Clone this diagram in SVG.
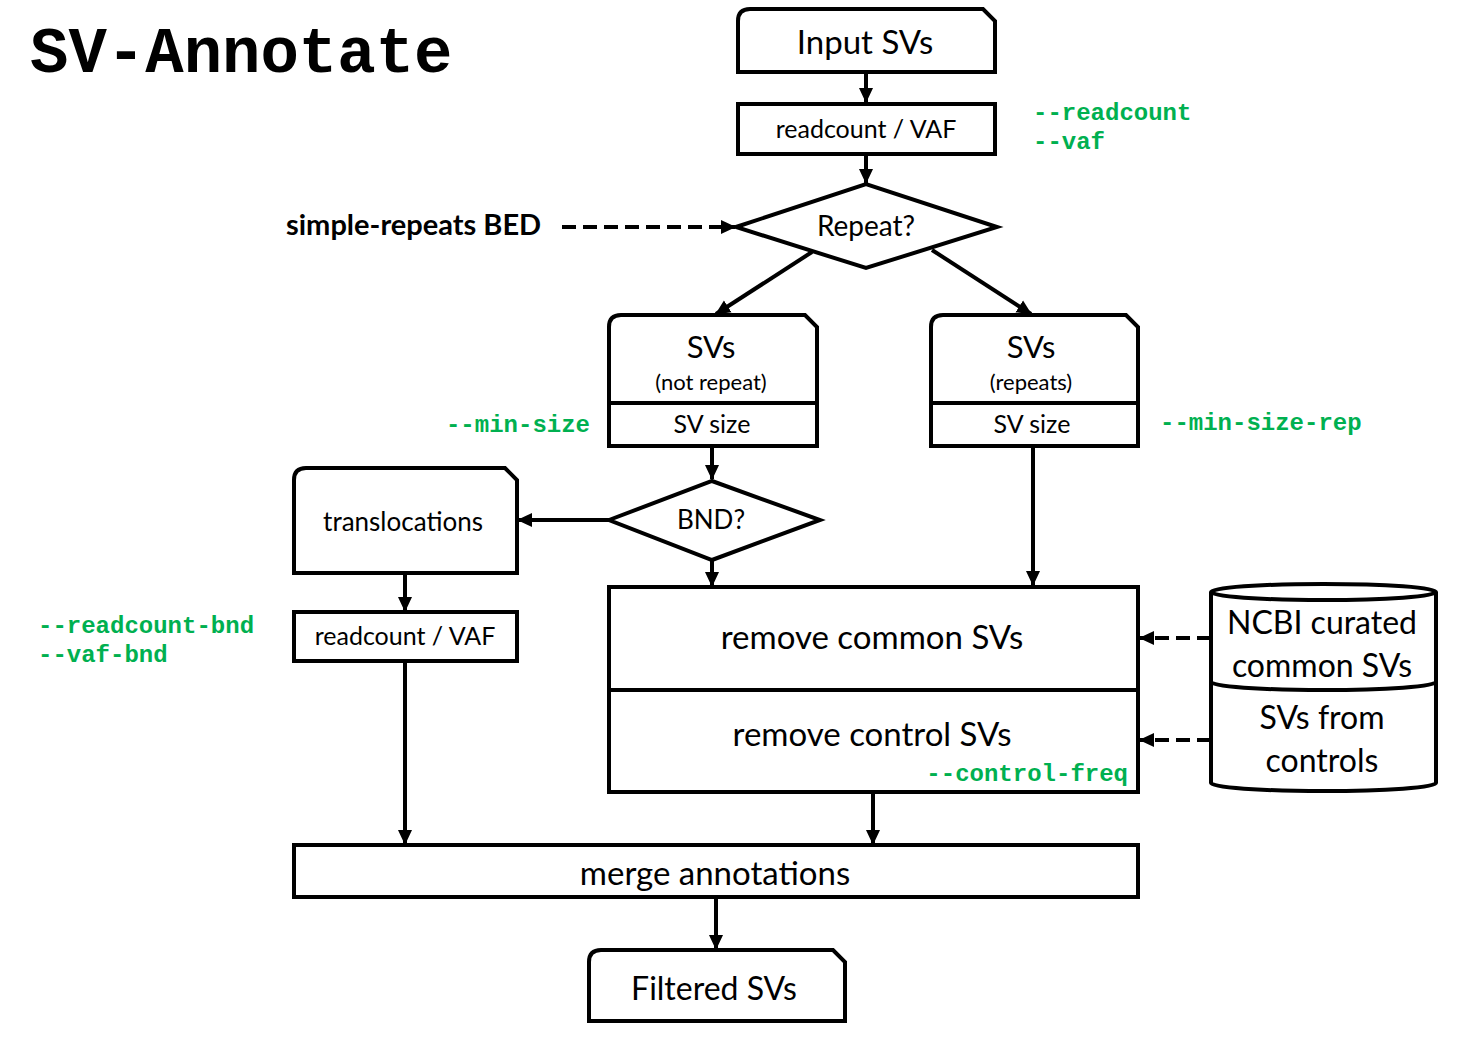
<svg xmlns="http://www.w3.org/2000/svg" width="1468" height="1041" viewBox="0 0 1468 1041">
<style>
.box{fill:#fff;stroke:#000;stroke-width:4}
.ln{fill:none;stroke:#000;stroke-width:4}
.dash{fill:none;stroke:#000;stroke-width:4;stroke-dasharray:14 7}
.t{font-family:Lato,"Liberation Sans",sans-serif;fill:#000;text-anchor:middle}
.g{font-family:"Liberation Mono","Courier New",monospace;font-weight:bold;fill:#00B050;font-size:24px}
</style>
<defs>
<marker id="ah" markerUnits="userSpaceOnUse" markerWidth="16" markerHeight="16" refX="14" refY="8" orient="auto">
<path d="M0,1 L15,8 L0,15 Z" fill="#000"/>
</marker>
</defs>
<rect width="1468" height="1041" fill="#fff"/>
<text x="30" y="72" font-family="Liberation Mono,Courier New,monospace" font-weight="bold" font-size="64" fill="#000">SV-Annotate</text>

<g id="connectors">
<line class="ln" x1="866" y1="72" x2="866" y2="102" marker-end="url(#ah)"/>
<line class="ln" x1="866" y1="154" x2="866" y2="183" marker-end="url(#ah)"/>
<line class="dash" x1="562" y1="227" x2="735" y2="227" marker-end="url(#ah)"/>
<line class="ln" x1="812" y1="252" x2="716" y2="314" marker-end="url(#ah)"/>
<line class="ln" x1="932" y1="250" x2="1031" y2="314" marker-end="url(#ah)"/>
<line class="ln" x1="712" y1="446" x2="712" y2="479" marker-end="url(#ah)"/>
<line class="ln" x1="609" y1="520" x2="518" y2="520" marker-end="url(#ah)"/>
<line class="ln" x1="712" y1="560" x2="712" y2="586" marker-end="url(#ah)"/>
<line class="ln" x1="405" y1="573" x2="405" y2="611" marker-end="url(#ah)"/>
<line class="ln" x1="405" y1="661" x2="405" y2="844" marker-end="url(#ah)"/>
<line class="ln" x1="1033" y1="446" x2="1033" y2="585" marker-end="url(#ah)"/>
<line class="ln" x1="873" y1="792" x2="873" y2="844" marker-end="url(#ah)"/>
<line class="ln" x1="716" y1="897" x2="716" y2="949" marker-end="url(#ah)"/>
<line class="dash" x1="1211" y1="638" x2="1140" y2="638" marker-end="url(#ah)"/>
<line class="dash" x1="1211" y1="740" x2="1140" y2="740" marker-end="url(#ah)"/>
</g>

<g id="input-svs">
<path class="box" d="M738,72 L738,21 Q738,9 750,9 L983,9 L995,21 L995,72 Z"/>
<text class="t" x="865" y="54" font-size="33">Input SVs</text>
</g>
<g id="readcount-vaf">
<rect class="box" x="738" y="104" width="257" height="50"/>
<text class="t" x="866" y="138" font-size="25">readcount / VAF</text>
</g>
<g id="readcount-flags">
<text class="g" x="1033" y="120">--readcount</text>
<text class="g" x="1033" y="149">--vaf</text>
</g>
<g id="repeat">
<path class="box" d="M736,227 L866,184 L997,227 L866,268 Z"/>
<text class="t" x="866" y="236" font-size="28">Repeat?</text>
</g>
<g id="simple-repeats">
<text x="286" y="235" font-family="Lato,'Liberation Sans',sans-serif" font-weight="bold" font-size="29" fill="#000">simple-repeats BED</text>
</g>
<g id="svs-not-repeat">
<path class="box" d="M609,446 L609,327 Q609,315 621,315 L805,315 L817,327 L817,446 Z"/>
<line class="ln" x1="609" y1="403" x2="817" y2="403"/>
<text class="t" x="711" y="358" font-size="31">SVs</text>
<text class="t" x="711" y="390" font-size="22">(not repeat)</text>
<text class="t" x="712" y="433" font-size="25">SV size</text>
</g>
<g id="min-size">
<text class="g" x="590" y="432" text-anchor="end">--min-size</text>
</g>
<g id="svs-repeats">
<path class="box" d="M931,446 L931,327 Q931,315 943,315 L1126,315 L1138,327 L1138,446 Z"/>
<line class="ln" x1="931" y1="403" x2="1138" y2="403"/>
<text class="t" x="1031" y="358" font-size="31">SVs</text>
<text class="t" x="1031" y="390" font-size="22">(repeats)</text>
<text class="t" x="1032" y="433" font-size="25">SV size</text>
</g>
<g id="min-size-rep">
<text class="g" x="1160" y="430">--min-size-rep</text>
</g>
<g id="bnd">
<path class="box" d="M609,520 L712,481 L820,520 L712,560 Z"/>
<text class="t" x="711" y="529" font-size="26">BND?</text>
</g>
<g id="translocations">
<path class="box" d="M294,573 L294,480 Q294,468 306,468 L505,468 L517,480 L517,573 Z"/>
<text class="t" x="403" y="531" font-size="26">translocations</text>
</g>
<g id="readcount-vaf-bnd">
<rect class="box" x="294" y="612" width="223" height="49"/>
<text class="t" x="405" y="645" font-size="25">readcount / VAF</text>
</g>
<g id="bnd-flags">
<text class="g" x="38" y="633">--readcount-bnd</text>
<text class="g" x="38" y="662">--vaf-bnd</text>
</g>
<g id="remove">
<rect class="box" x="609" y="587" width="529" height="205"/>
<line class="ln" x1="609" y1="690" x2="1138" y2="690"/>
<text class="t" x="872" y="649" font-size="33">remove common SVs</text>
<text class="t" x="872" y="746" font-size="33">remove control SVs</text>
<text class="g" x="1128" y="781" text-anchor="end">--control-freq</text>
</g>
<g id="databases">
<path class="box" d="M1211,592 L1211,783 A112.5,8 0 0 0 1436,783 L1436,592 A112.5,8 0 0 0 1211,592 Z"/>
<path class="ln" d="M1211,592 A112.5,8 0 0 0 1436,592"/>
<path class="ln" d="M1211,682 A112.5,8 0 0 0 1436,682"/>
<text class="t" x="1322" y="634" font-size="32">NCBI curated</text>
<text class="t" x="1322" y="677" font-size="32">common SVs</text>
<text class="t" x="1322" y="729" font-size="32">SVs from</text>
<text class="t" x="1322" y="772" font-size="32">controls</text>
</g>
<g id="merge">
<rect class="box" x="294" y="845" width="844" height="52"/>
<text class="t" x="715" y="885" font-size="33">merge annotations</text>
</g>
<g id="filtered">
<path class="box" d="M589,1021 L589,962 Q589,950 601,950 L833,950 L845,962 L845,1021 Z"/>
<text class="t" x="714" y="1000" font-size="32">Filtered SVs</text>
</g>
</svg>
